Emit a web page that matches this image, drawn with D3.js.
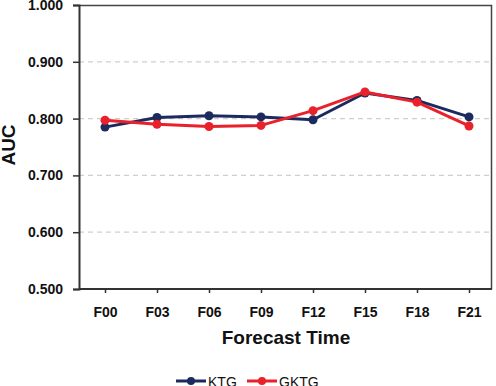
<!DOCTYPE html>
<html>
<head>
<meta charset="utf-8">
<script src="https://cdn.jsdelivr.net/npm/d3@7"></script>
<style>
  body { margin: 0; background: #fff; }
  text { font-family: "Liberation Sans", Arial, sans-serif; fill: #111; }
</style>
</head>
<body>
<svg id="auc-chart" width="496" height="386"></svg>
<script>
var categories = ["F00", "F03", "F06", "F09", "F12", "F15", "F18", "F21"];
var ktgValues = [0.785, 0.802, 0.805, 0.803, 0.798, 0.845, 0.832, 0.803];
var gktgValues = [0.797, 0.790, 0.786, 0.788, 0.814, 0.847, 0.829, 0.787];
var yTicks = [0.5, 0.6, 0.7, 0.8, 0.9, 1.0];
var seriesNames = ["KTG", "GKTG"];
var seriesColors = ["#1c2a5e", "#e8212b"];

var svg = d3.select("#auc-chart"),
  margin = { top: 5, right: 4, bottom: 97, left: 79 },
  width = +svg.attr("width") - margin.left - margin.right,
  height = +svg.attr("height") - margin.top - margin.bottom;

var x = d3.scalePoint().domain(categories).range([26, width - 23]),
  y = d3.scaleLinear().domain([0.5, 1.0]).range([height, 0]);

var g = svg.append("g")
  .attr("transform", "translate(" + margin.left + "," + margin.top + ")");

// dashed grid
g.selectAll(".grid")
  .data(yTicks.filter(function (d) { return d > 0.5 && d < 1; }))
  .enter().append("line")
  .attr("x1", 0).attr("x2", width)
  .attr("y1", function (d) { return y(d); })
  .attr("y2", function (d) { return y(d); })
  .attr("stroke", "#cfcfcf")
  .attr("stroke-width", 1.2)
  .attr("stroke-dasharray", "5,4");

// frame top/right
g.append("path")
  .attr("d", "M0,0.5H" + (width - 0.5) + "V" + height)
  .attr("fill", "none")
  .attr("stroke", "#444")
  .attr("stroke-width", 1.5);

var yAxis = g.append("g")
  .call(d3.axisLeft(y).tickValues(yTicks).tickFormat(d3.format(".3f")).tickSize(6).tickPadding(10));
yAxis.select(".domain").attr("stroke", "#333").attr("stroke-width", 2);
yAxis.selectAll(".tick line").attr("stroke", "#333").attr("stroke-width", 1.5);
yAxis.selectAll("text")
  .attr("font-size", 14).attr("font-weight", "bold").attr("fill", "#111")
  .style("font-family", "Liberation Sans, Arial, sans-serif");

var xAxis = g.append("g")
  .attr("transform", "translate(0," + height + ")")
  .call(d3.axisBottom(x).tickSize(4).tickPadding(14).tickSizeOuter(0));
xAxis.select(".domain").attr("stroke", "#333").attr("stroke-width", 2)
  .attr("d", "M0,0H" + width);
xAxis.selectAll(".tick line").attr("stroke", "#333").attr("stroke-width", 1.5);
xAxis.selectAll("text")
  .attr("font-size", 14).attr("font-weight", "bold").attr("fill", "#111")
  .style("font-family", "Liberation Sans, Arial, sans-serif");

// axis titles
svg.append("text")
  .attr("x", 286).attr("y", 344)
  .attr("text-anchor", "middle")
  .attr("font-size", 19).attr("font-weight", "bold")
  .text("Forecast Time");

svg.append("text")
  .attr("transform", "translate(15,145) rotate(-90)")
  .attr("text-anchor", "middle")
  .attr("font-size", 19).attr("font-weight", "bold")
  .text("AUC");

var line = d3.line()
  .x(function (d, i) { return x(categories[i]); })
  .y(function (d) { return y(d); });

[ktgValues, gktgValues].forEach(function (vals, k) {
  g.append("path")
    .datum(vals)
    .attr("fill", "none")
    .attr("stroke", seriesColors[k])
    .attr("stroke-width", 3)
    .attr("stroke-linejoin", "round")
    .attr("d", line);
  g.selectAll(".pt" + k)
    .data(vals)
    .enter().append("circle")
    .attr("cx", function (d, i) { return x(categories[i]); })
    .attr("cy", function (d) { return y(d); })
    .attr("r", 4.5)
    .attr("fill", seriesColors[k]);
});

// legend
var legendX = [176, 247];
seriesNames.forEach(function (name, k) {
  var lg = svg.append("g").attr("transform", "translate(" + legendX[k] + ",381)");
  lg.append("line").attr("x1", 0).attr("x2", 30).attr("y1", 0).attr("y2", 0)
    .attr("stroke", seriesColors[k]).attr("stroke-width", 3);
  lg.append("circle").attr("cx", 15).attr("cy", 0).attr("r", 4).attr("fill", seriesColors[k]);
  lg.append("text").attr("x", 32).attr("y", 6)
    .attr("font-size", 14).text(name);
});
</script>
</body>
</html>
